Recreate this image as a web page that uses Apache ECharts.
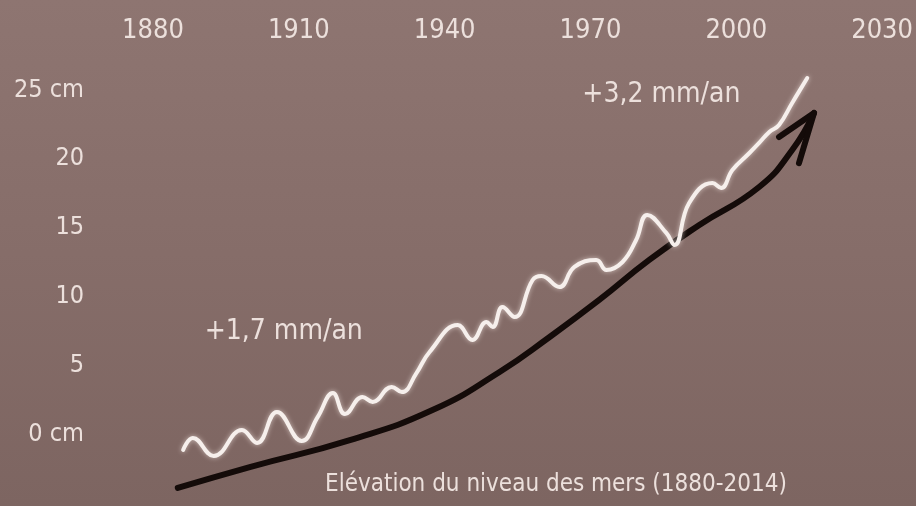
<!DOCTYPE html>
<html>
<head>
<meta charset="utf-8">
<script src="https://cdn.jsdelivr.net/npm/echarts@6/dist/echarts.min.js"></script>
<style>html,body{margin:0;padding:0;}#c{width:916px;height:506px;}</style>
</head>
<body>
<div id="c"></div>
<script>
// ---- data ----
var xTicks = [1880, 1910, 1940, 1970, 2000, 2030];
var yTickLabels = { "0": "0 cm", "5": "5", "10": "10", "15": "15", "20": "20", "25": "25 cm" };

// sea-level curve (year, cm)
var seaYears = [1886.2, 1888.2, 1892.5, 1898.3, 1901.4, 1905.5, 1910.6, 1913.9, 1917.0, 1919.5, 1923.1, 1925.2, 1929.1, 1931.2, 1934.2, 1936.9, 1942.7, 1945.7, 1948.6, 1949.9, 1951.9, 1954.4, 1958.1, 1959.9, 1963.6, 1966.7, 1971.2, 1973.3, 1976.6, 1979.4, 1981.7, 1985.6, 1987.3, 1990.3, 1995.1, 1996.9, 1999.2, 2002.7, 2004.7, 2006.8, 2008.8, 2011.5, 2014.6];
var seaLevel = [-1.16, -0.29, -1.60, 0.29, -0.65, 1.60, -0.51, 1.24, 2.98, 1.45, 2.69, 2.33, 3.42, 3.05, 4.43, 5.96, 7.92, 6.83, 8.14, 7.78, 9.23, 8.50, 11.19, 11.48, 10.68, 12.14, 12.65, 11.92, 12.50, 14.10, 15.92, 14.61, 13.74, 16.79, 18.24, 17.88, 19.19, 20.42, 21.15, 21.95, 22.46, 24.06, 25.87];

// hand-drawn trend arrow (year, cm)
var trendYears = [1885.1, 1899.9, 1920.5, 1937.5, 1951.3, 1961.6, 1971.8, 1982.1, 1992.4, 2004.7, 2011.5, 2016.0];
var trendLevel = [-3.92, -2.40, -0.44, 1.74, 4.51, 7.05, 9.74, 12.65, 15.19, 17.95, 20.64, 23.33];
var arrowYears = [2008.8, 2016.0, 2012.9];
var arrowLevel = [21.58, 23.33, 19.69];

var rateLabels = [
  { text: "+1,7 mm/an", year: 1906.9, cm: 7.41 },
  { text: "+3,2 mm/an", year: 1984.6, cm: 24.64 }
];
var titleText = "Elévation du niveau des mers (1880-2014)";

function zip(a, b) { return a.map(function (v, i) { return [v, b[i]]; }); }

var FONT = "'DejaVu Sans Condensed', 'DejaVu Sans', sans-serif";
var TXT = "#ece0dc";

var chart = echarts.init(document.getElementById("c"), null, { renderer: "canvas" });
chart.setOption({
  backgroundColor: {
    type: "linear", x: 0, y: 0, x2: 0, y2: 1,
    colorStops: [
      { offset: 0, color: "#8e7571" },
      { offset: 0.5, color: "#866d69" },
      { offset: 1, color: "#7d6561" }
    ]
  },
  animation: false,
  title: {
    text: titleText,
    left: 325, top: 473, padding: 0,
    textStyle: { color: TXT, fontFamily: FONT, fontSize: 24, fontWeight: "normal" }
  },
  grid: { left: 153, right: 33, top: 55.6, bottom: 3.2 },
  xAxis: {
    type: "value", position: "top",
    min: 1880, max: 2030, interval: 30,
    axisLine: { show: false }, axisTick: { show: false }, splitLine: { show: false },
    axisLabel: {
      color: TXT, fontFamily: FONT, fontSize: 27, margin: 11,
      formatter: function (v) { return xTicks.indexOf(v) >= 0 ? String(v) : ""; }
    }
  },
  yAxis: {
    type: "value",
    min: -5, max: 27.5, interval: 5,
    axisLine: { show: false }, axisTick: { show: false }, splitLine: { show: false },
    axisLabel: {
      color: TXT, fontFamily: FONT, fontSize: 25, margin: 69, align: "right",
      formatter: function (v) { var k = String(v); return yTickLabels.hasOwnProperty(k) ? yTickLabels[k] : ""; }
    }
  },
  series: [
    {
      type: "line", data: zip(trendYears, trendLevel), smooth: 0.5,
      symbol: "none", lineStyle: { color: "#140b09", width: 6, cap: "round" }, z: 2
    },
    {
      type: "line", data: zip(arrowYears, arrowLevel), smooth: false,
      symbol: "none", lineStyle: { color: "#140b09", width: 6, cap: "round", join: "round" }, z: 2
    },
    {
      type: "line", data: zip(seaYears, seaLevel), smooth: 0.45,
      symbol: "none",
      lineStyle: { color: "#f6efec", width: 4, cap: "round", shadowBlur: 5, shadowColor: "rgba(255,245,240,0.6)" },
      z: 3,
      markPoint: {
        symbol: "circle", symbolSize: 0,
        label: { show: true, position: "inside", color: TXT, fontFamily: FONT, fontSize: 28, formatter: "{b}" },
        data: rateLabels.map(function (r) { return { name: r.text, coord: [r.year, r.cm] }; })
      }
    }
  ]
});
</script>
</body>
</html>
